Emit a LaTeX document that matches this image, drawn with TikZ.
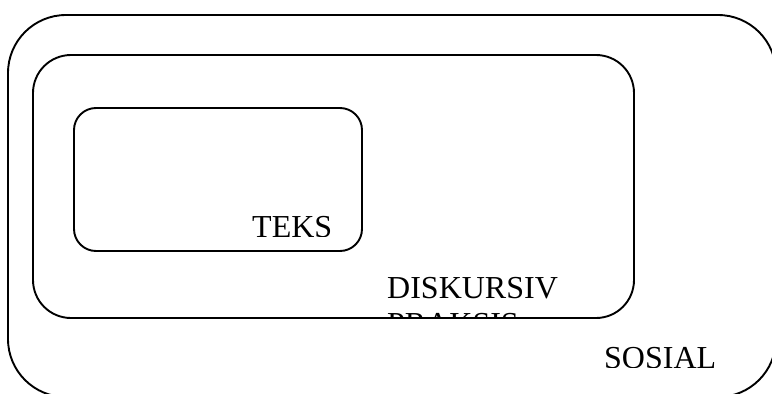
\documentclass[tikz,border=0pt]{standalone}
\usepackage{fontspec}
\setmainfont{Liberation Serif}
\tikzset{
  box/.style={line width=1.9pt, rounded corners=#1},
  label/.style={inner sep=0pt, anchor=base west, font=\fontsize{32}{36}\selectfont}
}
\begin{document}
\begin{tikzpicture}[x=1pt,y=-1pt]
        \useasboundingbox (0,0) rectangle (772,394);
        \clip (0,0) rectangle (772,394);
        % the three levels
        \draw[box=58pt] (8,15) rectangle (776,397);
        \draw[box=38pt] (33,55) rectangle (634,318);
        \draw[box=22pt] (74,108) rectangle (362,251);
        % texts, cut off by their frames
        \begin{scope}
            \clip (74,108) rectangle (362,236.5);
            \node[label] (teks) at (252,237) {TEKS};
        \end{scope}
        \begin{scope}
            \clip (33,55) rectangle (634,317);
            \node[label] (diskursiv) at (387,298) {DISKURSIV};
            \node[label] (praksis) at (387,334) {PRAKSIS};
        \end{scope}
        \begin{scope}
            \clip (8,15) rectangle (772,367);
            \node[label] (sosial) at (604,368) {SOSIAL};
        \end{scope}
\end{tikzpicture}
\end{document}
